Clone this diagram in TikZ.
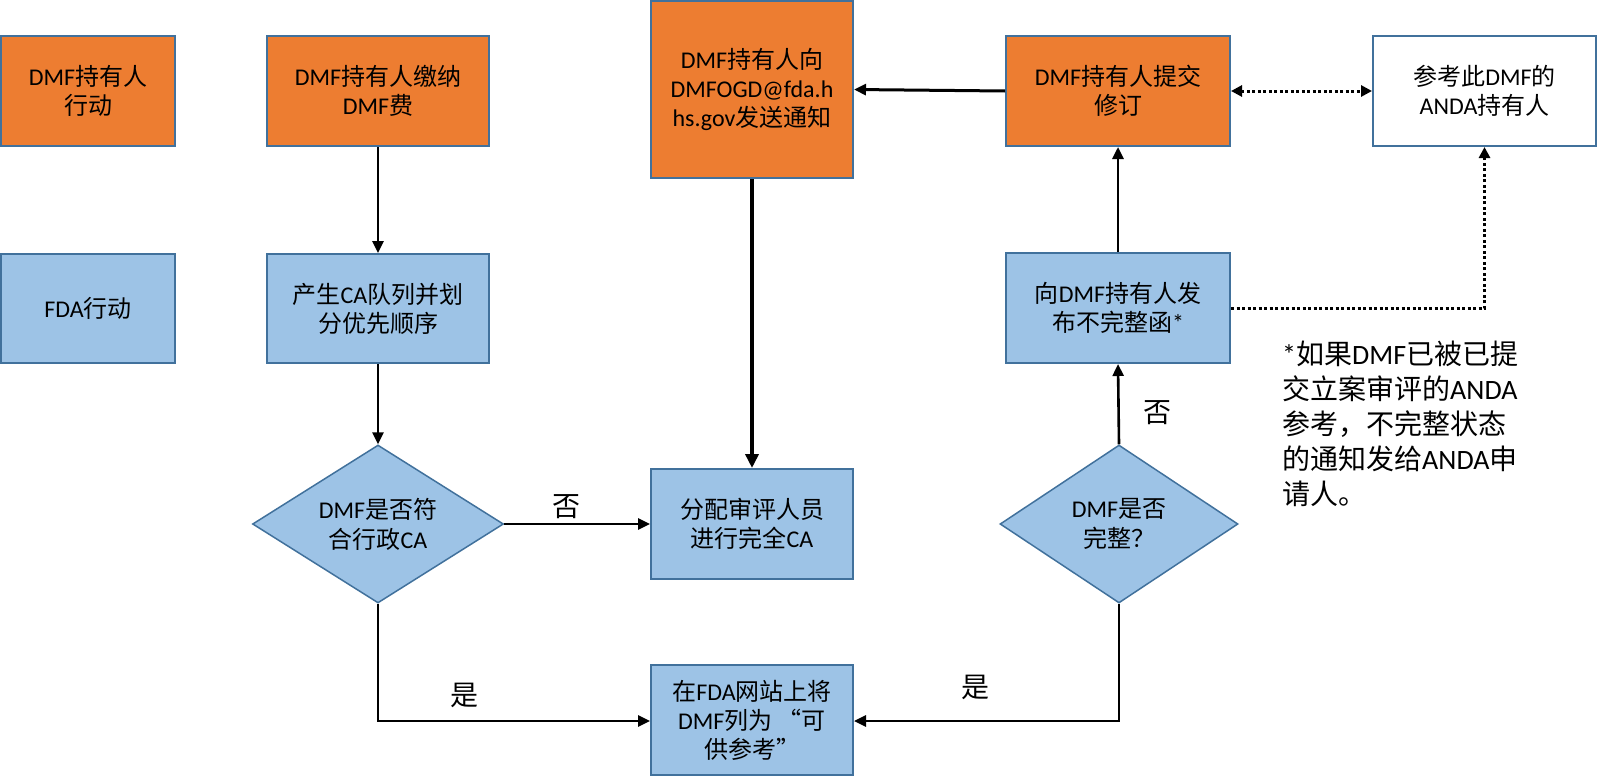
\documentclass[tikz,border=0pt]{standalone}
\usepackage{fontspec}
\setmainfont{Carlito}
\newfontfamily\cjk{Noto Sans CJK SC}
\newcommand\zh[1]{{\cjk #1}}
\usetikzlibrary{shapes.geometric,arrows.meta}
\definecolor{orangefill}{HTML}{ED7D31}
\definecolor{bluefill}{HTML}{9DC3E6}
\definecolor{borderblue}{HTML}{41719C}
\tikzset{
  box/.style={draw=borderblue, line width=2pt, align=center, inner sep=0pt,
    font=\fontsize{24}{29}\selectfont, text=black},
  orangebox/.style={box, fill=orangefill},
  bluebox/.style={box, fill=bluefill},
  whitebox/.style={box, fill=white},
  decision/.style={diamond, aspect=1.6, draw=borderblue, line width=1.5pt, fill=bluefill,
    align=center, inner sep=0pt, font=\fontsize{24}{30}\selectfont},
  arr/.style={-{Triangle[length=12pt,width=11pt]}, line width=2.6pt},
  thickarr/.style={-{Triangle[length=14pt,width=13pt]}, line width=4pt},
  midarr/.style={-{Triangle[length=12pt,width=11pt]}, line width=3pt},
  dotline/.style={line width=3pt, dash pattern=on 3pt off 2.5pt},
  lbl/.style={font=\cjk\fontsize{28}{34}\selectfont, inner sep=0pt},
}
\begin{document}
\begin{tikzpicture}[x=1pt,y=-1pt]
\useasboundingbox (0,0) rectangle (1597,779);
% row 1
\node[orangebox, minimum width=174pt, minimum height=110pt] (A) at (88,91) {DMF\zh{持有人}\\\zh{行动}};
\node[orangebox, minimum width=222pt, minimum height=110pt] (B) at (378,91) {DMF\zh{持有人缴纳}\\DMF\zh{费}};
\node[orangebox, minimum width=202pt, minimum height=177pt] (C) at (752,89.5) {DMF\zh{持有人向}\\DMFOGD@fda.h\\hs.gov\zh{发送通知}};
\node[orangebox, minimum width=224pt, minimum height=110pt] (D) at (1118,91) {DMF\zh{持有人提交}\\\zh{修订}};
\node[whitebox, minimum width=223pt, minimum height=110pt] (E) at (1484.5,91) {\zh{参考此}DMF\zh{的}\\ANDA\zh{持有人}};
% row 2
\node[bluebox, minimum width=174pt, minimum height=109pt] (F) at (88,308.5) {FDA\zh{行动}};
\node[bluebox, minimum width=222pt, minimum height=109pt] (G) at (378,308.5) {\zh{产生}CA\zh{队列并划}\\\zh{分优先顺序}};
\node[bluebox, minimum width=224pt, minimum height=110pt] (H) at (1118,308) {\zh{向}DMF\zh{持有人发}\\\zh{布不完整函}*};
% row 3
\node[decision, minimum width=251pt, minimum height=158pt] (I) at (378,524) {DMF\zh{是否符}\\\zh{合行政}CA};
\node[bluebox, minimum width=202pt, minimum height=110pt] (J) at (752,524) {\zh{分配审评人员}\\\zh{进行完全}CA};
\node[decision, minimum width=238pt, minimum height=158pt] (K) at (1119,524) {DMF\zh{是否}\\\zh{完整？}};
% row 4
\node[bluebox, minimum width=202pt, minimum height=110pt] (L) at (752,720) {\zh{在}FDA\zh{网站上将}\\DMF\zh{列为 “可}\\\zh{供参考”}};
% note
\node[anchor=north west, align=left, inner sep=0pt, font=\fontsize{28}{35}\selectfont] (N) at (1282,341)
  {*\zh{如果}DMF\zh{已被已提}\\\zh{交立案审评的}ANDA\\\zh{参考，不完整状态}\\\zh{的通知发给}ANDA\zh{申}\\\zh{请人。}};
% corner coordinates
\coordinate (IL) at (378,721);
\coordinate (KL) at (1119,721);
% connectors
\draw[arr] (B.south) -- (G.north);
\draw[arr] (G.south) -- (I.north);
\draw[arr] (I.east) -- (J.west);
\draw[arr] (I.south) -- (IL) -- (L.west |- IL);
\draw[arr] (K.south) -- (KL) -- (L.east |- KL);
\draw[arr] (K.north) -- (H.south);
\draw[arr] (H.north) -- (D.south);
\draw[thickarr] (C.south) -- (J.north);
\draw[midarr] (D.west) -- (C.east);
\draw[dotline, {Triangle[length=11pt,width=11pt]}-{Triangle[length=11pt,width=11pt]}] (D.east) -- (E.west);
\draw[dotline, -{Triangle[length=11pt,width=11pt]}] (H.east) -| (E.south);
% labels
\node[lbl] (no1) at (566,507) {否};
\node[lbl] (yes1) at (464,695) {是};
\node[lbl] (yes2) at (975,687) {是};
\node[lbl] (no2) at (1157,413) {否};
\end{tikzpicture}
\end{document}
